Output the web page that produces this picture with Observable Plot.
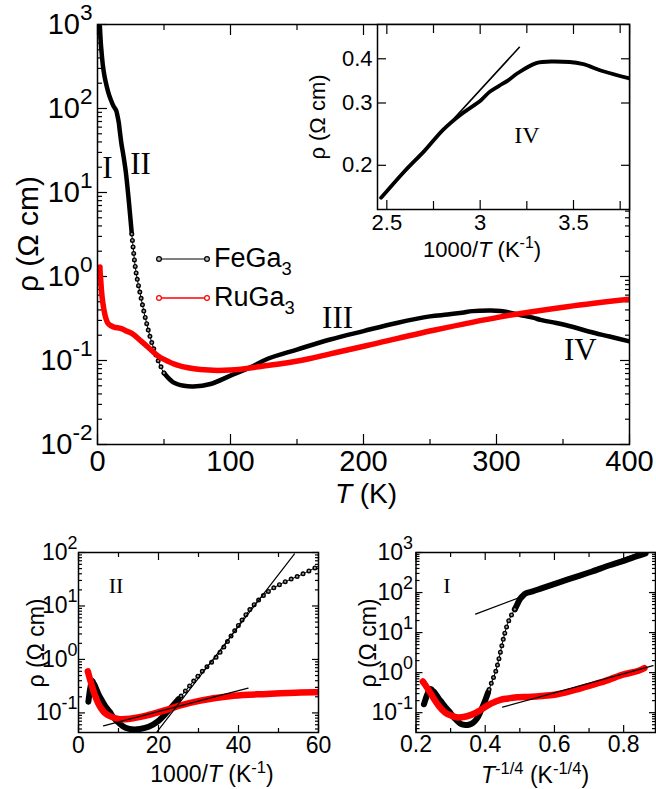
<!DOCTYPE html>
<html><head><meta charset="utf-8">
<script src="https://cdn.jsdelivr.net/npm/d3@7"></script>
<script src="https://cdn.jsdelivr.net/npm/@observablehq/plot@0.6"></script>
<style>
body{margin:0;background:#fff;}
#fig{position:relative;width:656px;height:789px;font-family:"Liberation Sans",Arial,Helvetica,sans-serif;color:#000;overflow:hidden;}
#fig svg{position:absolute;overflow:visible;}
.lab{position:absolute;white-space:nowrap;line-height:1;}
.rot{transform:translate(-50%,-50%) rotate(-90deg);}
.ctr{transform:translate(-50%,-50%);}
.lab sup{font-size:0.72em;vertical-align:0;position:relative;top:-0.55em;}
.lab sub{font-size:0.68em;vertical-align:0;position:relative;top:0.42em;}
</style></head><body><div id="fig"></div>
<script>
// ---------- data ----------
const feT   = [1.8, 2.0, 2.5, 3, 4, 5, 6, 8, 10, 12, 14, 15, 16, 16.7, 18, 19.5, 21.2, 23.3, 25.8, 28.8, 32.8, 36, 40, 45, 50, 57, 65, 72, 85, 100, 115, 128, 150, 175, 200, 225, 250, 263, 274, 282, 295, 303, 312.5, 317, 322.6, 328, 333, 345, 357, 370, 385, 400, 405];
const feRho = [950, 820, 600, 480, 330, 257, 212, 158, 127, 107, 95, 82, 68, 55, 38, 27.5, 18, 8.7, 3.2, 1.17, 0.55, 0.32, 0.18, 0.105, 0.071, 0.055, 0.050, 0.049, 0.0525, 0.066, 0.083, 0.105, 0.135, 0.178, 0.224, 0.28, 0.335, 0.352, 0.37, 0.387, 0.393, 0.389, 0.364, 0.349, 0.335, 0.322, 0.305, 0.279, 0.252, 0.22, 0.193, 0.169, 0.162];
const ruT   = [1.83, 2.0, 2.44, 3, 3.5, 4.16, 5, 6, 7.7, 10, 12.3, 16.5, 18, 21.2, 25.8, 32.8, 40, 45, 50, 60, 77.5, 100, 127.5, 152.6, 175, 202.8, 252.8, 303, 353, 400, 430];
const ruRho = [1.3, 1.1, 0.9, 0.68, 0.56, 0.47, 0.39, 0.33, 0.28, 0.26, 0.25, 0.243, 0.24, 0.226, 0.21, 0.17, 0.135, 0.115, 0.103, 0.088, 0.078, 0.077, 0.087, 0.10, 0.12, 0.151, 0.229, 0.331, 0.437, 0.537, 0.6];

// fitted straight lines (end points, data units)
const fitIV_x = [2.47, 3.21],  fitIV_rho = [0.162, 0.431];
const fitIIfe_x = [19.5, 54],  fitIIfe_rho = [0.043, 94];
const fitIIru_x = [6.25, 42.4], fitIIru_rho = [0.057, 0.29];
const fitIfe_x = [0.372, 0.846], fitIfe_rho = [29, 1000];
const fitIru_x = [0.45, 0.885], fitIru_rho = [0.138, 1.5];

// regime annotations (data units)
const annMainText = ["I", "II", "III", "IV"], annMainT = [7.5, 32.3, 180.5, 363], annMainRho = [19.3, 22, 0.316, 0.1315];
const annInsetText = ["IV"], annInsetX = [3.25], annInsetRho = [0.243];
const annBLText = ["II"], annBLX = [9.4], annBLRho = [23.5];
const annBRText = ["I"], annBRX = [0.289], annBRRho = [143];

// ticks
const mainXMajor = [0, 100, 200, 300, 400], mainXMinor = [50, 150, 250, 350];
const mainYMajor = [1e-2, 1e-1, 1, 10, 100, 1000];
const insetXMajor = [2.5, 3, 3.5], insetXMinor = [2.75, 3.25, 3.75], insetYMajor = [0.2, 0.3, 0.4];
const blXMajor = [0, 20, 40, 60], blXMinor = [10, 30, 50], blYMajor = [0.1, 1, 10, 100];
const brXMajor = [0.2, 0.4, 0.6, 0.8], brXMinor = [0.3, 0.5, 0.7], brYMajor = [0.1, 1, 10, 100, 1000];

// ---------- build ----------
const fe = feT.map((T, i) => ({T, rho: feRho[i]}));
const ru = ruT.map((T, i) => ({T, rho: ruRho[i]}));
const pairs = (xs, ys) => xs.map((x, i) => ({x, y: ys[i]}));
const ann = (t, xs, ys) => t.map((label, i) => ({label, x: xs[i], y: ys[i]}));
const minorLog = (lo, hi) => { const out = []; for (let e = -3; e <= 3; e++) for (let m = 2; m <= 9; m++) { const v = m * Math.pow(10, e); if (v > lo && v < hi) out.push(v); } return out; };
const pow10 = d => "10^" + Math.round(Math.log10(d));

const SANS = '"Liberation Sans", Arial, Helvetica, sans-serif';
const SERIF = '"Liberation Serif", "Times New Roman", serif';
const RED = "#ff0000";
const curve = "catmull-rom";

function axes({xMaj, xMin, yMaj, yMin, xFmt, yFmt, fs, maj, min, xOff, yOff}) {
  const m = [];
  m.push(Plot.axisX(xMaj, {anchor: "bottom", tickSize: -maj, tickPadding: maj + xOff, tickFormat: xFmt, fontSize: fs, label: null, strokeWidth: 1.2}));
  m.push(Plot.axisX(xMaj, {anchor: "top", tickSize: -maj, fill: "none", label: null, strokeWidth: 1.2}));
  if (xMin.length) {
    m.push(Plot.axisX(xMin, {anchor: "bottom", tickSize: -min, fill: "none", label: null, strokeWidth: 1.2}));
    m.push(Plot.axisX(xMin, {anchor: "top", tickSize: -min, fill: "none", label: null, strokeWidth: 1.2}));
  }
  m.push(Plot.axisY(yMaj, {anchor: "left", tickSize: -maj, tickPadding: maj + yOff, tickFormat: yFmt, fontSize: fs, label: null, strokeWidth: 1.2}));
  m.push(Plot.axisY(yMaj, {anchor: "right", tickSize: -maj, fill: "none", label: null, strokeWidth: 1.2}));
  if (yMin.length) {
    m.push(Plot.axisY(yMin, {anchor: "left", tickSize: -min, fill: "none", label: null, strokeWidth: 1.2}));
    m.push(Plot.axisY(yMin, {anchor: "right", tickSize: -min, fill: "none", label: null, strokeWidth: 1.2}));
  }
  return m;
}

function feLines(xf, denseFilter, beadFilter, w) {
  return [
    Plot.line(fe, {x: xf, y: "rho", stroke: "black", strokeWidth: 1, curve, clip: true}),
    Plot.line(fe.filter(denseFilter), {x: xf, y: "rho", z: d => (d.T < 30 ? "a" : "b"), stroke: "black", strokeWidth: w, strokeLinecap: "round", strokeLinejoin: "round", curve, clip: true}),
    Plot.line(fe.filter(beadFilter), {x: xf, y: "rho", stroke: "black", strokeWidth: 5, strokeDasharray: "0 6.5", strokeLinecap: "round", curve, clip: true}),
    Plot.line(fe.filter(beadFilter), {x: xf, y: "rho", stroke: "#9a9a9a", strokeWidth: 2.2, strokeDasharray: "0 6.5", strokeLinecap: "round", curve, clip: true})
  ];
}

function supify(svg) {
  d3.select(svg).selectAll("text").each(function () {
    const t = this.textContent;
    if (!t.includes("^")) return;
    const [b, e] = t.split("^");
    const s = d3.select(this);
    s.text(b);
    s.append("tspan").attr("dy", "-0.62em").style("font-size", "78%").text(e);
  });
}

const fig = document.getElementById("fig");
function place(svg, left, top) { svg.style.left = left + "px"; svg.style.top = top + "px"; fig.appendChild(svg); supify(svg); }

// ----- main panel -----
const main = Plot.plot({
  width: 656, height: 500, marginLeft: 97, marginRight: 27, marginTop: 24, marginBottom: 56,
  style: {fontFamily: SANS, background: "transparent", overflow: "visible"},
  x: {domain: [0, 400]},
  y: {type: "log", domain: [1e-2, 1e3]},
  marks: [
    ...axes({xMaj: mainXMajor, xMin: mainXMinor, yMaj: mainYMajor, yMin: minorLog(1e-2, 1e3), xFmt: d => String(d), yFmt: pow10, fs: 29, maj: 10, min: 5, xOff: 6, yOff: 5}),
    ...feLines("T", d => d.T <= 25.8 || d.T >= 50, d => d.T >= 25.8 && d.T <= 50, 4.5),
    Plot.line(ru, {x: "T", y: "rho", stroke: RED, strokeWidth: 5.5, strokeLinejoin: "round", curve, clip: true}),
    Plot.text(ann(annMainText, annMainT, annMainRho), {x: "x", y: "y", text: "label", fontFamily: SERIF, fontSize: 31}),
    Plot.frame({stroke: "black", strokeWidth: 1.5})
  ]
});
place(main, 0, 0);

// ----- inset -----
const inset = Plot.plot({
  width: 356, height: 270, marginLeft: 77, marginRight: 27, marginTop: 24, marginBottom: 61,
  style: {fontFamily: SANS, background: "transparent", overflow: "visible"},
  x: {domain: [2.45, 3.8]},
  y: {type: "log", domain: [0.15, 0.5]},
  marks: [
    Plot.frame({fill: "white", stroke: "none"}),
    ...axes({xMaj: insetXMajor, xMin: insetXMinor, yMaj: insetYMajor, yMin: [], xFmt: d => String(d), yFmt: d => d.toFixed(1), fs: 22, maj: 9, min: 8, xOff: 5, yOff: 5}),
    Plot.line(fe.filter(d => d.T >= 250), {x: d => 1000 / d.T, y: "rho", stroke: "black", strokeWidth: 3.8, strokeLinejoin: "round", curve, clip: true}),
    Plot.line(pairs(fitIV_x, fitIV_rho), {x: "x", y: "y", stroke: "black", strokeWidth: 1.6}),
    Plot.text(ann(annInsetText, annInsetX, annInsetRho), {x: "x", y: "y", text: "label", fontFamily: SERIF, fontSize: 24}),
    Plot.frame({stroke: "black", strokeWidth: 1.5})
  ]
});
place(inset, 300, 0);

// ----- bottom left (Arrhenius) -----
const bl = Plot.plot({
  width: 330, height: 269, marginLeft: 78, marginRight: 12, marginTop: 32, marginBottom: 57,
  style: {fontFamily: SANS, background: "transparent", overflow: "visible"},
  x: {domain: [0, 60]},
  y: {type: "log", domain: [0.043, 100]},
  marks: [
    ...axes({xMaj: blXMajor, xMin: blXMinor, yMaj: blYMajor, yMin: minorLog(0.043, 100), xFmt: d => String(d), yFmt: pow10, fs: 23, maj: 7, min: 4, xOff: 4, yOff: 1}),
    ...feLines(d => 1000 / d.T, d => d.T >= 40, d => d.T >= 15 && d.T <= 40, 6),
    Plot.line(ru, {x: d => 1000 / d.T, y: "rho", stroke: RED, strokeWidth: 6.5, strokeLinejoin: "round", curve, clip: true}),
    Plot.line(pairs(fitIIfe_x, fitIIfe_rho), {x: "x", y: "y", stroke: "black", strokeWidth: 1.2, clip: true}),
    Plot.line(pairs(fitIIru_x, fitIIru_rho), {x: "x", y: "y", stroke: "black", strokeWidth: 1.2, clip: true}),
    Plot.text(ann(annBLText, annBLX, annBLRho), {x: "x", y: "y", text: "label", fontFamily: SERIF, fontSize: 22}),
    Plot.frame({stroke: "black", strokeWidth: 1.5})
  ]
});
place(bl, 0, 520);

// ----- bottom right (VRH) -----
const br = Plot.plot({
  width: 326, height: 269, marginLeft: 85.5, marginRight: 1, marginTop: 32, marginBottom: 57,
  style: {fontFamily: SANS, background: "transparent", overflow: "visible"},
  x: {domain: [0.2, 0.892]},
  y: {type: "log", domain: [0.032, 1000]},
  marks: [
    ...axes({xMaj: brXMajor, xMin: brXMinor, yMaj: brYMajor, yMin: minorLog(0.032, 1000), xFmt: d => String(d), yFmt: pow10, fs: 23, maj: 7, min: 4, xOff: 3, yOff: 3}),
    ...feLines(d => Math.pow(d.T, -0.25), d => d.T <= 18 || d.T >= 36, d => d.T >= 18 && d.T <= 36, 6),
    Plot.line(ru, {x: d => Math.pow(d.T, -0.25), y: "rho", stroke: RED, strokeWidth: 6.5, strokeLinejoin: "round", curve, clip: true}),
    Plot.line(pairs(fitIfe_x, fitIfe_rho), {x: "x", y: "y", stroke: "black", strokeWidth: 1.2, clip: true}),
    Plot.line(pairs(fitIru_x, fitIru_rho), {x: "x", y: "y", stroke: "black", strokeWidth: 1.2, clip: true}),
    Plot.text(ann(annBRText, annBRX, annBRRho), {x: "x", y: "y", text: "label", fontFamily: SERIF, fontSize: 22}),
    Plot.frame({stroke: "black", strokeWidth: 1.5})
  ]
});
place(br, 330, 520);

// ----- legend (inside main panel) -----
const leg = d3.create("svg").attr("width", 70).attr("height", 60).style("left", "150px").style("top", "244px");
[["black", "#bbb", 15], [RED, "white", 54]].forEach(([c, f, y]) => {
  leg.append("line").attr("x1", 9).attr("x2", 57).attr("y1", y).attr("y2", y).attr("stroke", c).attr("stroke-width", c === RED ? 1.3 : 1.1);
  [9, 57].forEach(x => leg.append("circle").attr("cx", x).attr("cy", y).attr("r", 2.4).attr("fill", f).attr("stroke", c).attr("stroke-width", 1.2));
});
fig.appendChild(leg.node());

// ----- HTML text labels -----
function label(html, x, y, size, cls) {
  const d = document.createElement("div");
  d.className = "lab " + cls;
  d.style.left = x + "px"; d.style.top = y + "px"; d.style.fontSize = size + "px";
  d.innerHTML = html;
  fig.appendChild(d);
}
label("FeGa<sub>3</sub>", 214, 245, 27, "");
label("RuGa<sub>3</sub>", 214, 284, 27, "");
label("ρ (Ω cm)", 28, 234, 30, "rot");
label("<i>T</i> (K)", 366, 494, 28, "ctr");
label("ρ (Ω cm)", 318, 117, 22, "rot");
label("1000/<i>T</i> (K<sup>-1</sup>)", 482, 250, 22, "ctr");
label("ρ (Ω cm)", 36, 643, 23, "rot");
label("1000/<i>T</i> (K<sup>-1</sup>)", 212, 774, 23, "ctr");
label("ρ (Ω cm)", 368, 643, 23, "rot");
label("<i>T</i><sup>-1/4</sup> (K<sup>-1/4</sup>)", 535, 775, 23, "ctr");
</script>
</body></html>
